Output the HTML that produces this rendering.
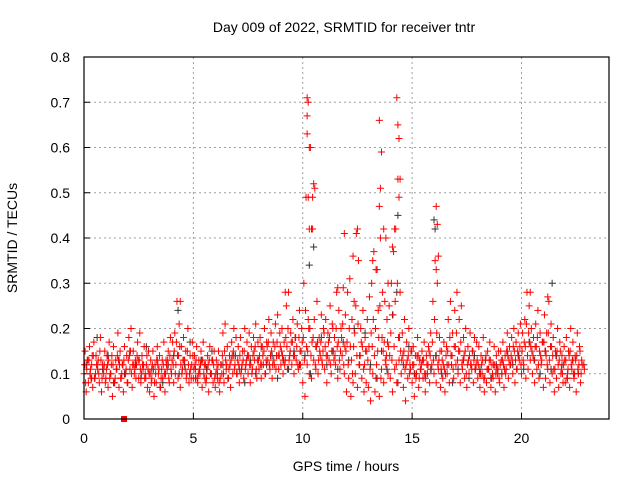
<!DOCTYPE html>
<html><head><meta charset="utf-8"><style>
body{margin:0;background:#fff;}
svg{display:block;font-family:"Liberation Sans",sans-serif;}
</style></head><body>
<svg id="chart" width="640" height="480">
<text x="344" y="32" text-anchor="middle" font-size="14">Day 009 of 2022, SRMTID for receiver tntr</text>
<text x="346" y="471" text-anchor="middle" font-size="14">GPS time / hours</text>
<text transform="translate(17,238) rotate(-90)" text-anchor="middle" font-size="14">SRMTID / TECUs</text>
<g id="grid"></g><g id="ticks"></g><g id="marks"></g>
<rect x="84" y="57" width="525" height="362" fill="none" stroke="#000" stroke-width="1.2"/>
</svg>
<script>
const xTicks=[0,5,10,15,20];
const yTicks=[0,0.1,0.2,0.3,0.4,0.5,0.6,0.7,0.8];
const yTickLabels=["0","0.1","0.2","0.3","0.4","0.5","0.6","0.7","0.8"];
const redLow=[.10,.06,.08,.11,.07,.09,.12,.08,.06,.10,.09,.07,.10,.05,.08,.11,.07,.09,.06,.10,.08,.11,.07,.10,.12,.09,.08,.11,.10,.07,.06,.09,.05,.08,.10,.07,.09,.06,.11,.08,.10,.08,.12,.09,.07,.11,.13,.10,.08,.09,.09,.11,.08,.10,.07,.12,.09,.06,.10,.08,.07,.09,.06,.10,.08,.11,.09,.07,.10,.12,.10,.08,.11,.09,.12,.10,.08,.11,.13,.09,.11,.09,.12,.10,.13,.11,.09,.12,.14,.11,.12,.10,.13,.11,.14,.12,.10,.13,.11,.12,.08,.05,.12,.10,.09,.13,.11,.10,.14,.12,.11,.08,.13,.10,.15,.12,.09,.11,.14,.10,.06,.09,.05,.08,.10,.07,.12,.09,.06,.08,.07,.04,.10,.06,.09,.05,.11,.08,.12,.10,.09,.06,.11,.08,.13,.10,.07,.04,.09,.12,.08,.05,.10,.07,.11,.09,.06,.10,.08,.12,.10,.08,.11,.07,.09,.06,.10,.08,.12,.09,.12,.10,.08,.11,.09,.07,.10,.12,.08,.11,.09,.07,.10,.06,.08,.11,.07,.09,.06,.10,.08,.10,.07,.11,.09,.12,.10,.08,.11,.13,.10,.12,.09,.11,.13,.10,.08,.11,.09,.12,.07,.09,.11,.08,.10,.06,.09,.07,.10,.08,.08,.10,.07,.11,.09,.06,.10,.08];
const redHigh=[.15,.13,.16,.12,.17,.14,.13,.18,.12,.15,.14,.17,.12,.16,.13,.19,.15,.12,.16,.14,.18,.20,.15,.13,.17,.19,.14,.16,.12,.15,.13,.15,.12,.16,.14,.11,.17,.13,.15,.18,.17,.19,.26,.21,.16,.18,.15,.20,.14,.17,.14,.16,.13,.15,.17,.12,.14,.16,.13,.15,.13,.15,.12,.19,.21,.16,.14,.17,.20,.18,.16,.18,.15,.20,.17,.19,.16,.18,.21,.17,.18,.16,.20,.17,.22,.19,.17,.21,.23,.19,.20,.17,.25,.28,.19,.22,.18,.21,.24,.20,.30,.49,.22,.60,.42,.51,.26,.18,.23,.20,.22,.19,.25,.21,.18,.28,.24,.20,.29,.23,.28,.31,.22,.26,.41,.35,.20,.24,.18,.22,.27,.30,.37,.33,.24,.40,.28,.26,.22,.25,.30,.37,.42,.53,.28,.19,.22,.17,.20,.15,.16,.14,.18,.13,.15,.17,.14,.16,.19,.26,.35,.30,.18,.15,.17,.14,.22,.26,.19,.24,.28,.22,.25,.18,.20,.16,.19,.15,.18,.17,.16,.14,.18,.13,.15,.17,.12,.16,.14,.15,.15,.17,.14,.19,.16,.18,.20,.17,.19,.21,.19,.22,.28,.25,.20,.18,.21,.24,.19,.17,.23,.19,.26,.21,.18,.15,.20,.17,.14,.16,.18,.15,.20,.17,.14,.19,.16,.13];
const redMidA=[.12,.11,.13,.09,.14,.10,.11,.15,.09,.12,.11,.13,.10,.12,.09,.14,.12,.10,.13,.11,.13,.15,.12,.11,.14,.13,.10,.12,.09,.11,.10,.12,.08,.13,.11,.09,.12,.10,.13,.14,.13,.15,.17,.14,.12,.13,.11,.15,.10,.12,.11,.13,.10,.12,.13,.09,.11,.13,.10,.12,.10,.12,.09,.14,.15,.12,.11,.13,.15,.14,.13,.14,.12,.15,.13,.14,.12,.14,.16,.13,.14,.12,.15,.13,.17,.14,.12,.16,.17,.14,.15,.13,.18,.20,.15,.17,.14,.16,.18,.15,.18,.24,.15,.20,.17,.22,.16,.13,.17,.15,.16,.14,.18,.15,.13,.20,.17,.15,.21,.16,.17,.20,.13,.16,.25,.21,.14,.16,.12,.15,.16,.19,.22,.20,.15,.25,.18,.17,.14,.16,.19,.23,.26,.30,.18,.13,.15,.12,.14,.11,.12,.10,.14,.09,.12,.13,.10,.12,.14,.17,.22,.19,.13,.11,.12,.10,.15,.18,.14,.16,.19,.15,.17,.13,.15,.12,.14,.11,.13,.12,.12,.10,.13,.09,.11,.13,.09,.12,.10,.11,.12,.13,.11,.15,.13,.14,.16,.13,.15,.16,.15,.17,.21,.19,.16,.14,.16,.18,.15,.13,.17,.14,.19,.16,.14,.11,.15,.13,.11,.12,.13,.11,.15,.13,.10,.14,.12,.10];
const redMidB=[.08,.13,.10,.14,.09,.12,.10,.13,.11,.08,.12,.09,.14,.08,.11,.13,.09,.12,.10,.08,.14,.10,.12,.09,.13,.11,.12,.09,.14,.10,.08,.11,.10,.12,.07,.13,.10,.12,.09,.11,.12,.10,.14,.16,.10,.13,.09,.12,.11,.14,.12,.09,.11,.13,.10,.08,.12,.10,.13,.09,.11,.08,.12,.10,.13,.09,.12,.14,.11,.10,.12,.10,.13,.11,.14,.12,.10,.15,.11,.13,.12,.14,.10,.16,.12,.15,.13,.11,.14,.16,.14,.12,.16,.13,.17,.14,.18,.12,.15,.17,.13,.16,.20,.14,.18,.12,.17,.15,.13,.19,.14,.17,.12,.20,.14,.16,.13,.18,.12,.15,.12,.16,.10,.19,.14,.12,.17,.11,.15,.13,.11,.16,.14,.12,.18,.09,.15,.13,.17,.14,.13,.16,.12,.18,.15,.14,.11,.13,.10,.15,.12,.09,.14,.11,.13,.10,.12,.15,.11,.13,.14,.12,.15,.13,.11,.16,.12,.14,.11,.16,.13,.15,.12,.14,.10,.13,.12,.15,.11,.13,.10,.12,.09,.14,.11,.13,.10,.12,.11,.09,.13,.12,.10,.14,.12,.13,.15,.11,.14,.12,.13,.16,.14,.17,.15,.13,.16,.12,.14,.17,.15,.12,.13,.16,.11,.14,.12,.15,.10,.13,.09,.14,.12,.10,.13,.11,.15,.12,.11];
const redSpikeT=[10.2,10.25,10.2,10.2,10.3,10.25,10.5,10.45,10.4,10.3,13.5,13.6,13.55,13.5,13.7,13.8,14.3,14.35,14.4,14.45,14.4,14.2,16.1,16.15,16.2,16.1,12.5,12.3,13.2,21.2,20.4,11.9,11.6,4.4,9.2,13.4,13.9,14.1];
const redSpikeV=[.71,.70,.67,.63,.60,.49,.52,.49,.42,.42,.66,.59,.51,.47,.42,.40,.71,.65,.62,.53,.49,.42,.47,.43,.36,.33,.42,.36,.35,.27,.28,.41,.29,.26,.28,.33,.30,.38];
const blackV=[.12,.09,.18,.11,.14,.08,.13,.10,.15,.12,.09,.16,.11,.13,.08,.12,.14,.10,.12,.17,.09,.13,.11,.15,.10,.12,.09,.14,.11,.08,.13,.10,.16,.12,.14,.09,.13,.11,.15,.12,.14,.10,.16,.18,.12,.15,.11,.17,.13,.20,.14,.19,.12,.09,.15,.11,.23,.08,.12,.16,.10,.13,.09,.11,.14,.10,.12,.08,.11,.13,.09,.14,.11,.13,.09,.12,.10,.15,.12,.14,.11,.17,.13,.10,.15,.11,.14,.12,.09,.13,.10,.12];
const blackSpikeT=[14.35,16,16.05,21.4,10.5,10.3,4.3,14.3];
const blackSpikeV=[.45,.44,.42,.30,.38,.34,.24,.28];
const X0=84,X1=609,Y0=419,Y1=57,XMAX=24,YMAX=0.8;
const xs=v=>X0+(X1-X0)*v/XMAX, ys=v=>Y0-(Y0-Y1)*v/YMAX;
const NS="http://www.w3.org/2000/svg";
function mk(tag,attrs,parent){const e=document.createElementNS(NS,tag);for(const k in attrs)e.setAttribute(k,attrs[k]);parent.appendChild(e);return e;}
const grid=document.getElementById('grid'),ticks=document.getElementById('ticks'),marks=document.getElementById('marks');
xTicks.forEach(t=>{const x=xs(t);
 const g=mk('line',{x1:x,x2:x,y1:Y1,y2:Y0,stroke:'#a0a0a0','stroke-dasharray':'2,3'},grid);
 
 mk('line',{x1:x,x2:x,y1:Y0,y2:Y0-6,stroke:'#000'},ticks);
 const l=mk('text',{x:x,y:Y0+24,'text-anchor':'middle','font-size':14},ticks);l.textContent=t;
 });
yTicks.forEach((t,i)=>{const y=ys(t);
 const g=mk('line',{x1:X0,x2:X1,y1:y,y2:y,stroke:'#a0a0a0','stroke-dasharray':'2,3'},grid);
 
 mk('line',{x1:X0,x2:X0+6,y1:y,y2:y,stroke:'#000'},ticks);
 const l=mk('text',{x:X0-14,y:y+5,'text-anchor':'end','font-size':14},ticks);l.textContent=yTickLabels[i];
 });
function plus(t,v,c,name){const x=xs(t),y=ys(v);
 const p=mk('path',{d:`M${x-3.5},${y}H${x+3.5}M${x},${y-3.5}V${y+3.5}`,stroke:c,'stroke-width':1},marks);
 }
blackV.forEach((v,i)=>plus(i*0.25+0.1,v,'#333','black-point'));
blackSpikeT.forEach((t,i)=>plus(t,blackSpikeV[i],'#333','black-point'));
redLow.forEach((v,i)=>plus(i*0.1,v,'#f00','red-point'));
redMidA.forEach((v,i)=>plus(i*0.1+0.025,v,'#f00','red-point'));
redHigh.forEach((v,i)=>plus(i*0.1+0.05,v,'#f00','red-point'));
redMidB.forEach((v,i)=>plus(i*0.1+0.075,v,'#f00','red-point'));
redSpikeT.forEach((t,i)=>plus(t,redSpikeV[i],'#f00','red-point'));
const sq=mk('rect',{x:xs(1.83)-3,y:Y0-3,width:6,height:6,fill:'#f00'},marks);

</script>
</body></html>
